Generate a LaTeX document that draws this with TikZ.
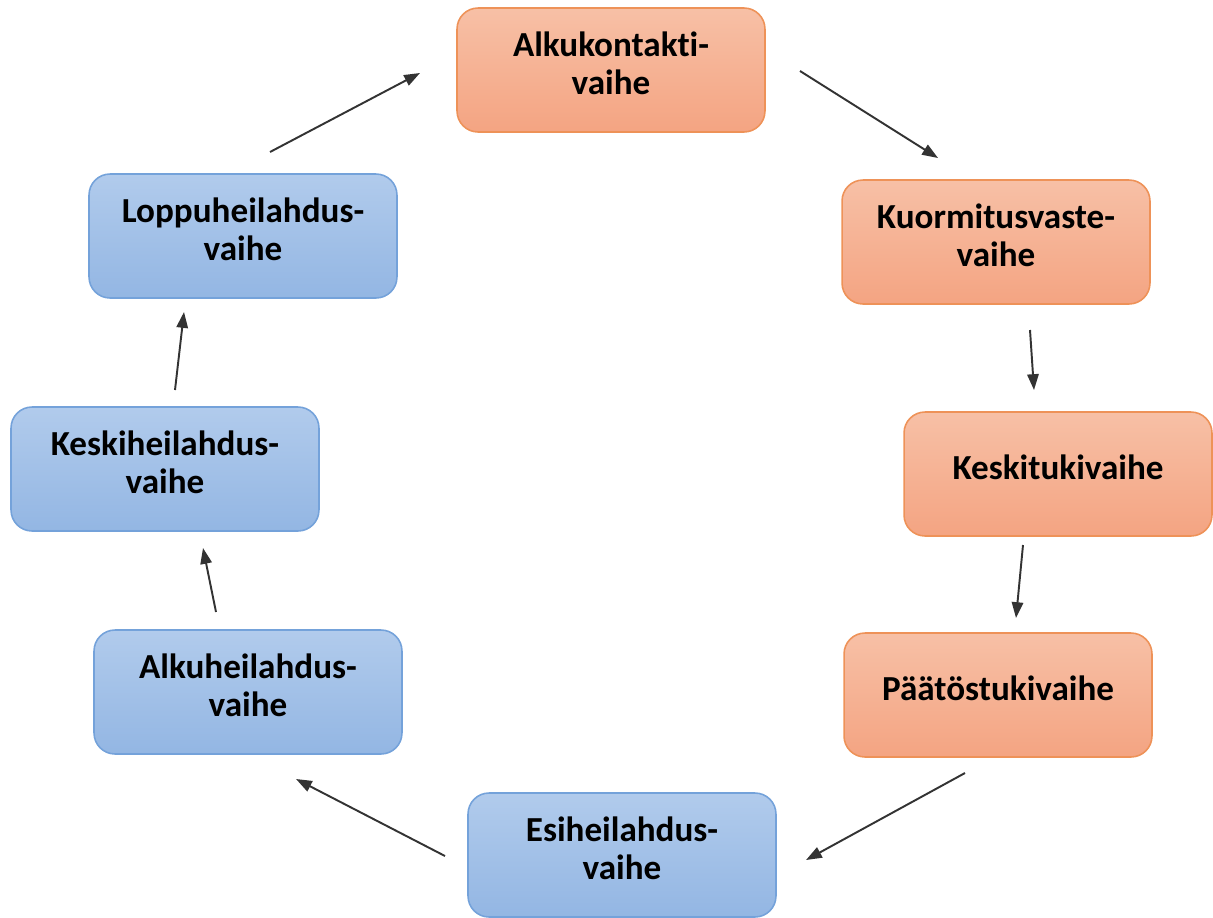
\documentclass[tikz,border=0pt]{standalone}
\usepackage{fontspec}
\setmainfont{Carlito}[Ligatures=NoCommon]
\usepackage{xcolor}
\usepackage{tikz}
\usetikzlibrary{shapes,arrows.meta,positioning}
\definecolor{orangetop}{HTML}{F7C0A6}
\definecolor{orangebot}{HTML}{F4A482}
\definecolor{orangeline}{HTML}{EE9258}
\definecolor{bluetop}{HTML}{B1CBEC}
\definecolor{bluebot}{HTML}{93B6E3}
\definecolor{blueline}{HTML}{74A2DA}
\tikzstyle{phase} = [rectangle, draw, line width=0.9pt, rounded corners=0.42cm,
    minimum width=6.16cm, minimum height=2.48cm, text width=5.8cm, align=center,
    text depth=0.28cm, font=\fontsize{20}{21.5}\selectfont\bfseries]
\tikzset{
    stance/.style={phase, draw=orangeline, top color=orangetop, bottom color=orangebot},
    swing/.style={phase, draw=blueline, top color=bluetop, bottom color=bluebot},
    twoline/.style={text depth=1.04cm}
}

\begin{document}
\begin{tikzpicture}[x=0.02cm, y=-0.02cm]
            % Define arrow style
            \tikzstyle{line} = [draw=black!80, line width=1.1pt,
                -{Triangle[length=9pt,width=6.5pt]}]
            \useasboundingbox (0,0) rectangle (1213,917);

            % Place nodes
            \node [stance, twoline] (contact) at (611,70) {Alkukontakti-\\vaihe};
            \node [stance, twoline] (loading) at (996,242) {Kuormitusvaste-\\vaihe};
            \node [stance] (midstance) at (1058,474) {Keskitukivaihe};
            \node [stance] (terminal) at (998,695) {Päätöstukivaihe};
            \node [swing, twoline] (preswing) at (622,855) {Esiheilahdus-\\vaihe};
            \node [swing, twoline] (initswing) at (248,692) {Alkuheilahdus-\\vaihe};
            \node [swing, twoline] (midswing) at (165,469) {Keskiheilahdus-\\vaihe};
            \node [swing, twoline] (termswing) at (243,236) {Loppuheilahdus-\\vaihe};

            % Arrow ends
            \coordinate (a1) at (800,71);  \coordinate (b1) at (938,158);
            \coordinate (a2) at (1030,330); \coordinate (b2) at (1034,390);
            \coordinate (a3) at (1023,545); \coordinate (b3) at (1016,618);
            \coordinate (a4) at (965,773);  \coordinate (b4) at (806,860);
            \coordinate (a5) at (445,856);  \coordinate (b5) at (296,779);
            \coordinate (a6) at (216,612);  \coordinate (b6) at (203,548);
            \coordinate (a7) at (175,390);  \coordinate (b7) at (184,312);
            \coordinate (a8) at (270,152);  \coordinate (b8) at (420,73);

            % Connect nodes
            \foreach \i in {1,...,8}
                \draw [line] (a\i) -- (b\i);
        \end{tikzpicture}
\end{document}
